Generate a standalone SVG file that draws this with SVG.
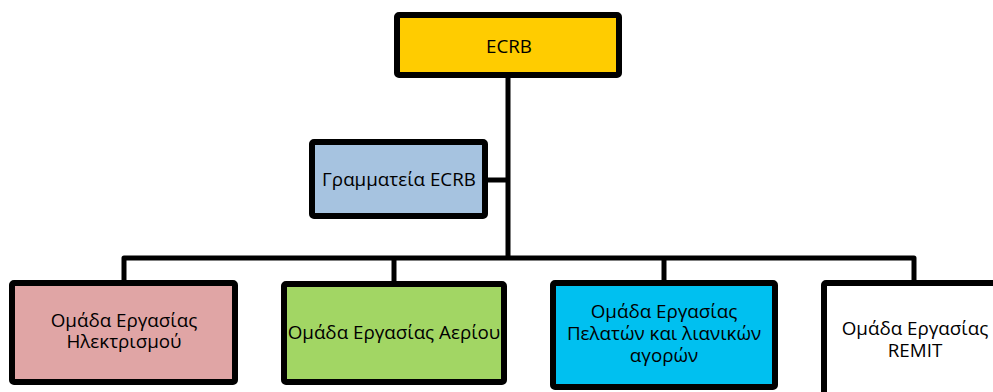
<svg xmlns="http://www.w3.org/2000/svg" width="993" height="392" viewBox="0 0 993 392">
<style>
.box{stroke:#000;stroke-width:6;stroke-linejoin:round}
.t{font-family:"Open Sans","Liberation Sans",Arial,sans-serif;font-size:18.8px;fill:#000;text-anchor:middle}
.c{fill:none;stroke:#000;stroke-width:5;stroke-linejoin:round}
</style>
<rect width="993" height="392" fill="#fff"/>
<g id="connectors">
<path class="c" d="M508 78 V258"/>
<path class="c" d="M488 180 H508"/>
<path class="c" d="M124 281 V258 H914 V281"/>
<path class="c" d="M394 258 V281"/>
<path class="c" d="M664 258 V281"/>
</g>
<g id="ecrb">
<rect class="box" x="397" y="15" width="222" height="60" rx="2" fill="#ffcc00"/>
<text class="t" x="509" y="53">ECRB</text>
</g>
<g id="secretariat">
<rect class="box" x="312" y="142" width="173" height="74" rx="2" fill="#a6c3e0"/>
<text class="t" x="399" y="186">Γραμματεία ECRB</text>
</g>
<g id="electricity">
<rect class="box" x="12" y="283" width="223" height="99" rx="2" fill="#e0a5a5"/>
<text class="t" x="124" y="327">Ομάδα Εργασίας</text>
<text class="t" x="124" y="348">Ηλεκτρισμού</text>
</g>
<g id="gas">
<rect class="box" x="284" y="284" width="220" height="98" rx="2" fill="#a2d664"/>
<text class="t" x="394" y="339">Ομάδα Εργασίας Αερίου</text>
</g>
<g id="customers">
<rect class="box" x="553" y="283" width="222" height="104" rx="2" fill="#00c0f0"/>
<text class="t" x="664" y="318">Ομάδα Εργασίας</text>
<text class="t" x="664" y="340">Πελατών και λιανικών</text>
<text class="t" x="664" y="362">αγορών</text>
</g>
<g id="remit">
<rect class="box" x="824" y="283" width="200" height="120" rx="2" fill="#fff"/>
<text class="t" x="915" y="335">Ομάδα Εργασίας</text>
<text class="t" x="915" y="357">REMIT</text>
</g>
</svg>
